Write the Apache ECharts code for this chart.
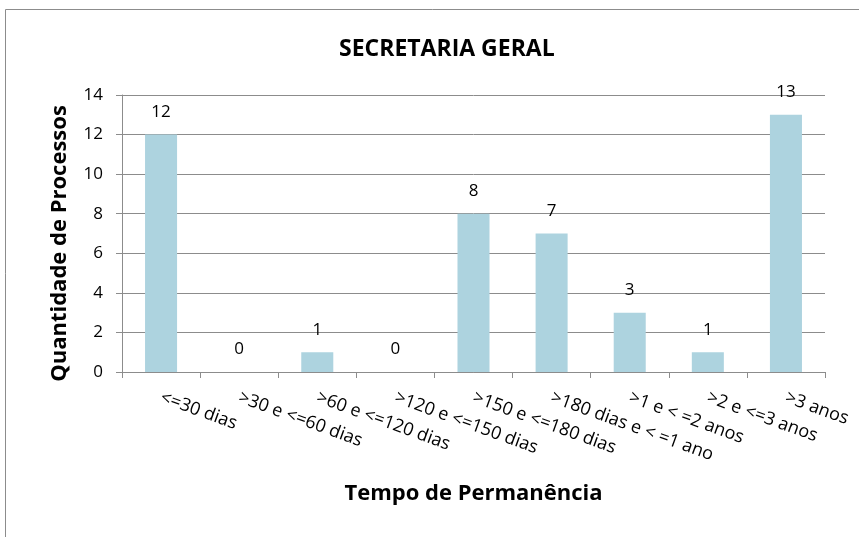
<!DOCTYPE html>
<html>
<head>
<meta charset="utf-8">
<script src="https://cdn.jsdelivr.net/npm/echarts@6/dist/echarts.min.js"></script>
<style>
  html, body { margin: 0; padding: 0; background: #fff; }
  #chart { width: 859px; height: 537px; }
</style>
</head>
<body>
<div id="chart"></div>
<script>
const categories = [
  '<=30 dias',
  '>30 e <=60 dias',
  '>60 e <=120 dias',
  '>120 e <=150 dias',
  '>150 e <=180 dias',
  '>180 dias e < =1 ano',
  '>1 e < =2 anos',
  '>2 e <=3 anos',
  '>3 anos',
];
const processos = [12, 0, 1, 0, 8, 7, 3, 1, 13];

const fontFamily = '"Open Sans", "Noto Sans", sans-serif';
const gridColor = '#8c8c8c';

const chart = echarts.init(document.getElementById('chart'));

chart.setOption({
  animation: false,
  textStyle: { fontFamily },
  title: {
    text: 'SECRETARIA GERAL',
    left: 334,
    top: 33,
    textStyle: { fontSize: 23, fontWeight: 'bold', color: '#000', fontFamily },
  },
  graphic: [
    {
      type: 'polyline',
      shape: { points: [[5.5, 540], [5.5, 9.5], [860, 9.5]] },
      style: { stroke: '#8c8c8c', lineWidth: 1, fill: null },
    },
  ],
  grid: { left: 122, right: 34, top: 95, bottom: 165 },
  xAxis: {
    type: 'category',
    data: categories,
    name: 'Tempo de Permanência',
    nameLocation: 'middle',
    nameGap: 111,
    nameTextStyle: { fontSize: 22, fontWeight: 'bold', color: '#000' },
    axisLine: { lineStyle: { color: gridColor } },
    axisTick: { show: true, alignWithLabel: false, length: 6, lineStyle: { color: gridColor } },
    axisLabel: {
      interval: 0,
      rotate: -20,
      fontSize: 18,
      color: '#000',
      margin: 25,
    },
  },
  yAxis: {
    type: 'value',
    min: 0,
    max: 14,
    interval: 2,
    name: 'Quantidade de Processos',
    nameLocation: 'middle',
    nameGap: 51,
    nameTextStyle: { fontSize: 22, fontWeight: 'bold', color: '#000', padding: [0, 20, 0, 0] },
    axisLine: { show: true, lineStyle: { color: gridColor } },
    axisTick: { show: true, inside: false, length: 6, lineStyle: { color: gridColor } },
    axisLabel: { fontSize: 17, color: '#000', margin: 19 },
    splitLine: { show: true, lineStyle: { color: gridColor, width: 1 } },
  },
  series: [
    {
      type: 'bar',
      data: processos,
      barWidth: '41%',
      itemStyle: { color: '#add3df' },
      label: {
        show: true,
        position: 'top',
        distance: 14,
        fontSize: 17,
        color: '#000',
      },
    },
  ],
});
</script>
</body>
</html>
